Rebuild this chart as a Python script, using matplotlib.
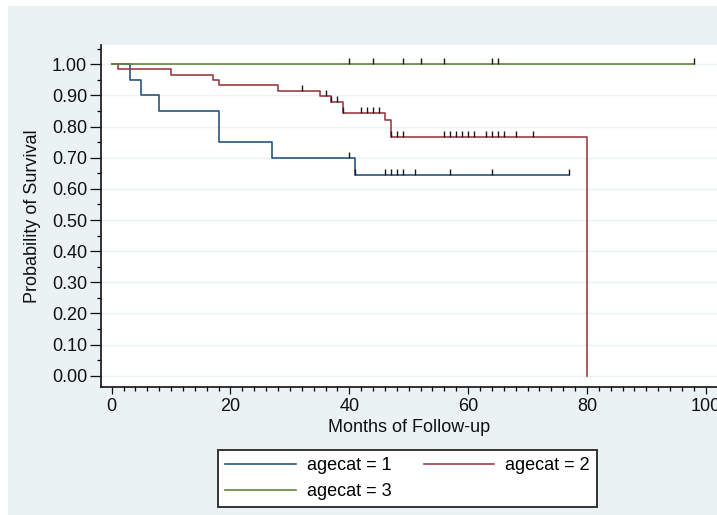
import numpy as np
import matplotlib
matplotlib.use("Agg")
import matplotlib.pyplot as plt
from matplotlib.patches import Rectangle
from matplotlib.ticker import MultipleLocator, FormatStrFormatter

plt.rcParams['font.family'] = ['Liberation Sans', 'DejaVu Sans']

# Kaplan-Meier estimates: step times and survival after each step
group1_times = [0, 3, 5, 8, 18, 27, 41, 77]
group1_surv = [1.0, 0.95, 0.90, 0.85, 0.75, 0.70, 0.646, 0.646]
group1_censored = [40, 41, 46, 47, 48, 49, 51, 57, 64, 77]

group2_times = [0, 1, 10, 17, 18, 28, 35, 37, 39, 46, 47, 80]
group2_surv = [1.0, 0.985, 0.967, 0.951, 0.935, 0.915, 0.898, 0.880, 0.845, 0.821, 0.768, 0.0]
group2_censored = [32, 36, 37, 38, 39, 42, 43, 44, 45, 47, 48, 49,
                   56, 57, 58, 59, 60, 61, 63, 64, 65, 66, 68, 71]

group3_times = [0, 98]
group3_surv = [1.0, 1.0]
group3_censored = [40, 44, 49, 52, 56, 64, 65, 98]

labels = ['agecat = 1', 'agecat = 2', 'agecat = 3']
colors = ['#2a557d', '#9c3e46', '#62843e']

bg = '#eaf2f3'

fig = plt.figure(figsize=(7.17, 5.15), dpi=100)
fig.patch.set_facecolor('white')
fig.patches.append(Rectangle((8 / 717, 0), 1, 1 - 6 / 515, transform=fig.transFigure,
                             facecolor=bg, edgecolor='none', zorder=-1))

ax = fig.add_axes([101 / 717, 1 - 387 / 515, 1 - 101 / 717, (387 - 45) / 515])
ax.set_facecolor('white')

groups = [(group1_times, group1_surv, group1_censored),
          (group2_times, group2_surv, group2_censored),
          (group3_times, group3_surv, group3_censored)]

handles = []
for (t, s, cens), lab, col in zip(groups, labels, colors):
    h, = ax.step(t, s, where='post', color=col, lw=1.2, label=lab, zorder=3)
    handles.append(h)
    t_arr = np.array(t)
    s_arr = np.array(s)
    idx = np.searchsorted(t_arr, cens, side='right') - 1
    lev = s_arr[idx]
    # censoring marks drawn upward from the curve
    ax.vlines(cens, lev, lev + 0.019, color='#1a1a1a', lw=1.0, zorder=4)

ax.set_xlim(-1.8, 101.9)
ax.set_ylim(-0.036, 1.062)

ax.xaxis.set_major_locator(MultipleLocator(20))
ax.xaxis.set_minor_locator(MultipleLocator(2))
ax.yaxis.set_major_locator(MultipleLocator(0.1))
ax.yaxis.set_minor_locator(MultipleLocator(0.05))
ax.yaxis.set_major_formatter(FormatStrFormatter('%.2f'))
ax.set_yticks(np.arange(0, 1.01, 0.1))

ax.grid(axis='y', which='major', color=bg, lw=1.0, zorder=0)
ax.set_axisbelow(True)

for side in ['top', 'right']:
    ax.spines[side].set_visible(False)
for side in ['left', 'bottom']:
    ax.spines[side].set_linewidth(1.2)
    ax.spines[side].set_color('#111111')

ax.tick_params(axis='y', which='major', length=8, width=0.9, pad=2, labelsize=13, colors='#111111')
ax.tick_params(axis='y', which='minor', length=3, width=0.9)
ax.tick_params(axis='x', which='major', length=5, width=0.9, pad=3, labelsize=13, colors='#111111')
ax.tick_params(axis='x', which='minor', length=3, width=0.9)

ax.set_xlabel('Months of Follow-up', fontsize=13, color='#111111')
ax.xaxis.set_label_coords(0.5, -0.095)
ax.set_ylabel('Probability of Survival', fontsize=13, color='#111111')
ax.yaxis.set_label_coords(-0.098, 0.5)

order = [0, 2, 1]
leg = fig.legend([handles[i] for i in order], [labels[i] for i in order],
                 loc='center', bbox_to_anchor=(407.5 / 717, 1 - 478.5 / 515),
                 ncol=2, fontsize=13, frameon=True, fancybox=False,
                 handlelength=3.9, handletextpad=0.6, columnspacing=1.8,
                 labelspacing=0.5, borderpad=0.4)
leg.get_frame().set_edgecolor('#333333')
leg.get_frame().set_linewidth(1.4)
leg.get_frame().set_facecolor('white')
leg.get_frame().set_alpha(1)

fig.savefig('out.png', dpi=100, facecolor=fig.get_facecolor())
